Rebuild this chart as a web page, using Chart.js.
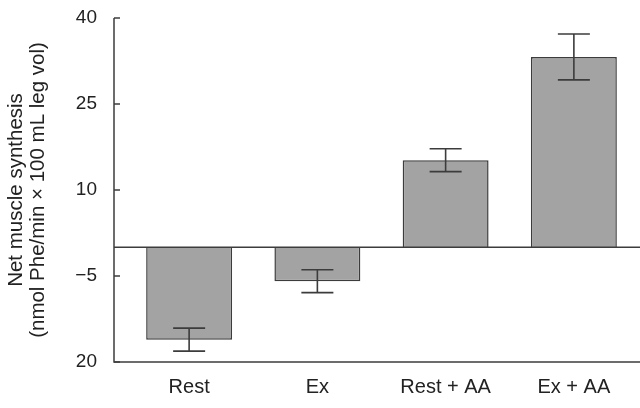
<!DOCTYPE html>
<html>
<head>
<meta charset="utf-8">
<script src="https://cdn.jsdelivr.net/npm/chart.js@4"></script>
<style>
  html, body { margin: 0; padding: 0; background: #fff; }
  #chart { display: block; }
</style>
</head>
<body>
<canvas id="chart" width="640" height="408"></canvas>
<script>
// data
const categories = ["Rest", "Ex", "Rest + AA", "Ex + AA"];
const means = [-16.1, -5.9, 15.2, 33.2];
const errors = [2.0, 2.0, 2.0, 4.0];
const tickValues = [-20, -5, 10, 25, 40];
const tickLabels = ["20", "\u22125", "10", "25", "40"];

const lineColor = "#3c3c3c";
const fontFamily = "Liberation Sans, Arial, sans-serif";

// axis frame, inward ticks, zero line and error bars
const framePlugin = {
  id: "frame",
  afterDatasetsDraw(chart) {
    const ctx = chart.ctx;
    const area = chart.chartArea;
    const y = chart.scales.y;
    const x = chart.scales.x;
    const axisX = area.left - 11;
    const right = chart.width;

    ctx.save();
    ctx.strokeStyle = lineColor;
    ctx.lineWidth = 1.5;

    // y axis + bottom line
    ctx.beginPath();
    ctx.moveTo(axisX, y.getPixelForValue(40));
    ctx.lineTo(axisX, area.bottom);
    ctx.lineTo(right, area.bottom);
    ctx.stroke();

    // ticks pointing inward
    tickValues.forEach(v => {
      const py = y.getPixelForValue(v);
      ctx.beginPath();
      ctx.moveTo(axisX, py);
      ctx.lineTo(axisX + 6, py);
      ctx.stroke();
    });

    // zero line
    const zy = y.getPixelForValue(0);
    ctx.beginPath();
    ctx.moveTo(axisX, zy);
    ctx.lineTo(right, zy);
    ctx.stroke();

    // error bars
    ctx.lineWidth = 1.6;
    means.forEach((m, i) => {
      const cx = x.getPixelForValue(i);
      const hi = y.getPixelForValue(m + errors[i]);
      const lo = y.getPixelForValue(m - errors[i]);
      ctx.beginPath();
      ctx.moveTo(cx, hi);
      ctx.lineTo(cx, lo);
      ctx.moveTo(cx - 16, hi);
      ctx.lineTo(cx + 16, hi);
      ctx.moveTo(cx - 16, lo);
      ctx.lineTo(cx + 16, lo);
      ctx.stroke();
    });
    ctx.restore();
  }
};

new Chart(document.getElementById("chart"), {
  type: "bar",
  data: {
    labels: categories,
    datasets: [
      {
        data: means,
        backgroundColor: "#a3a3a3",
        borderColor: lineColor,
        borderWidth: 1.5,
        barPercentage: 0.67,
        categoryPercentage: 1.0,
      },
    ],
  },
  options: {
    responsive: false,
    animation: false,
    layout: { padding: { top: 18, right: 2, left: 6, bottom: 0 } },
    plugins: {
      legend: { display: false },
      tooltip: { enabled: false },
    },
    scales: {
      x: {
        grid: { display: false },
        border: { display: false },
        ticks: {
          color: "#222",
          font: { family: fontFamily, size: 20 },
          padding: 5,
          maxRotation: 0,
        },
        afterFit(scale) {
          scale.height = 46;
          scale.paddingLeft = 0;
          scale.paddingRight = 0;
        },
      },
      y: {
        min: -20,
        max: 40,
        grid: { display: false },
        border: { display: false },
        afterBuildTicks(scale) {
          scale.ticks = tickValues.map(v => ({ value: v }));
        },
        ticks: {
          color: "#222",
          font: { family: fontFamily, size: 19 },
          padding: 20,
          callback: (value) => tickLabels[tickValues.indexOf(value)],
        },
        title: {
          display: true,
          text: ["Net muscle synthesis", "(nmol Phe/min \u00d7 100 mL leg vol)"],
          color: "#222",
          font: { family: fontFamily, size: 20.5, lineHeight: 1.05 },
          padding: { top: 0, bottom: 4 },
        },
        afterFit(scale) {
          scale.width = 119;
          scale.paddingTop = 0;
          scale.paddingBottom = 0;
        },
      },
    },
  },
  plugins: [framePlugin],
});
</script>
</body>
</html>
